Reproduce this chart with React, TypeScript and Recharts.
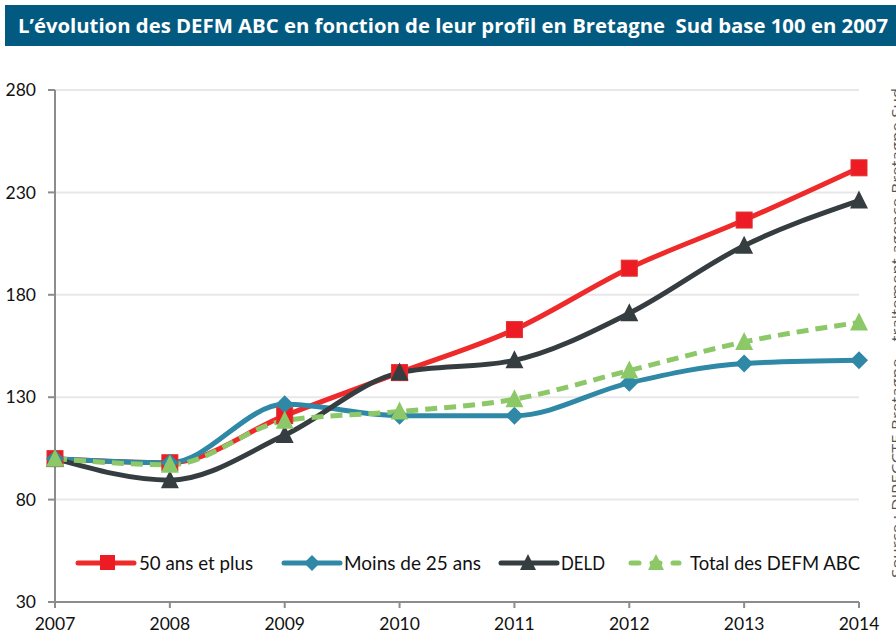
import React from "react";
import { LineChart, Line, XAxis, YAxis, CartesianGrid } from "recharts";

const years = [2007, 2008, 2009, 2010, 2011, 2012, 2013, 2014];
const plus50 = [100, 98, 121, 142, 163, 193, 216.5, 242];
const moins25 = [100, 98, 126.5, 121, 121, 137, 146.5, 148];
const deld = [100, 89.5, 111.5, 142, 148, 171, 204, 226];
const total = [100, 97, 118.5, 123, 129, 143, 157, 166.5];
const yTicks = [30, 80, 130, 180, 230, 280];

const title = "L’évolution des DEFM ABC en fonction de leur profil en Bretagne  Sud base 100 en 2007";
const source = "Source : DIRECCTE Bretagne – traitement agence Bretagne Sud";

const data = years.map((y, i) => ({
  year: y,
  plus50: plus50[i],
  moins25: moins25[i],
  deld: deld[i],
  total: total[i],
}));

const RED = "#ee2a2a";
const TEAL = "#2f89a6";
const DARK = "#363d40";
const GREEN = "#8dc868";
const FONT = "Lato, 'Open Sans', sans-serif";

const Square = (p: any) => {
  const { cx, cy, key } = p;
  if (cx == null || cy == null) return null;
  return <rect key={key} x={cx - 8} y={cy - 8} width={16} height={16} fill="#ed1c24" stroke="#e03030" strokeWidth={1} />;
};
const Diamond = (p: any) => {
  const { cx, cy, key } = p;
  if (cx == null || cy == null) return null;
  return <path key={key} d={`M${cx},${cy - 9} L${cx + 9},${cy} L${cx},${cy + 9} L${cx - 9},${cy} Z`} fill={TEAL} />;
};
const makeTri = (color: string) => (p: any) => {
  const { cx, cy, key } = p;
  if (cx == null || cy == null) return null;
  return <path key={key} d={`M${cx},${cy - 10} L${cx + 9},${cy + 8} L${cx - 9},${cy + 8} Z`} fill={color} />;
};
const DarkTri = makeTri(DARK);
const GreenTri = makeTri(GREEN);

const legendItems = [
  { label: "50 ans et plus", color: RED, shape: "square", x1: 78, x2: 134, mx: 108, tx: 139, tw: 114, dash: false },
  { label: "Moins de 25 ans", color: TEAL, shape: "diamond", x1: 284, x2: 340, mx: 312, tx: 344, tw: 137, dash: false },
  { label: "DELD", color: DARK, shape: "tri", x1: 501, x2: 557, mx: 528, tx: 561, tw: 44, dash: false },
  { label: "Total des DEFM ABC", color: GREEN, shape: "tri", x1: 631, x2: 679, mx: 656, tx: 690, tw: 170, dash: true },
];

const LegendOverlay = () => (
  <svg width={896} height={636} style={{ position: "absolute", left: 0, top: 0, pointerEvents: "none" }}>
    {legendItems.map((it) => {
      const cy = 563;
      const mx = it.mx;
      let marker = null;
      if (it.shape === "square") marker = <rect x={mx - 8} y={cy - 8} width={15} height={15} fill="#ed1c24" />;
      else if (it.shape === "diamond") marker = <path d={`M${mx},${cy - 8} L${mx + 8},${cy} L${mx},${cy + 8} L${mx - 8},${cy} Z`} fill={it.color} />;
      else marker = <path d={`M${mx},${cy - 9} L${mx + 8},${cy + 7} L${mx - 8},${cy + 7} Z`} fill={it.color} />;
      return (
        <g key={it.label}>
          <line x1={it.x1} y1={cy} x2={it.x2} y2={cy} stroke={it.color} strokeWidth={5} strokeLinecap="round" strokeDasharray={it.dash ? "8 13" : undefined} />
          {marker}
          <text x={it.tx} y={cy + 7} fontFamily={FONT} fontSize={19} fill="#111" textLength={it.tw} lengthAdjust="spacingAndGlyphs">
            {it.label}
          </text>
        </g>
      );
    })}
  </svg>
);

export default function App() {
  return (
    <div style={{ position: "absolute", left: 0, top: 0, width: 896, height: 636, background: "#fff", overflow: "hidden" }}>
      <svg width={896} height={50} style={{ position: "absolute", left: 0, top: 0 }}>
        <rect x={5} y={5} width={891} height={41} fill="#035a80" />
        <text x={18} y={33} fill="#fff" fontFamily="'Open Sans', sans-serif" fontWeight={700} fontSize={20} textLength={870} lengthAdjust="spacingAndGlyphs" xmlSpace="preserve" style={{ whiteSpace: "pre" }}>
          {title}
        </text>
      </svg>
      <div style={{ position: "absolute", left: 0, top: 0 }}>
        <LineChart width={896} height={636} data={data} margin={{ top: 90, right: 37, left: 8, bottom: 4 }}>
          <CartesianGrid horizontal vertical={false} stroke="#e8e8e8" strokeWidth={2} />
          <XAxis
            dataKey="year"
            type="number"
            domain={[2007, 2014]}
            ticks={years}
            interval={0}
            height={30}
            axisLine={{ stroke: "#8c8c8f", strokeWidth: 2 }}
            tickLine={{ stroke: "#8c8c8f", strokeWidth: 2 }}
            tickSize={6}
            tickMargin={10}
            tick={{ fill: "#111", fontSize: 17.5, fontFamily: FONT }}
          />
          <YAxis
            type="number"
            domain={[30, 280]}
            ticks={yTicks}
            interval={0}
            width={47}
            axisLine={{ stroke: "#8c8c8f", strokeWidth: 2 }}
            tickLine={{ stroke: "#8c8c8f", strokeWidth: 2 }}
            tickSize={7}
            tickMargin={12}
            tick={{ fill: "#111", fontSize: 17.5, fontFamily: FONT }}
          />
          <Line type="monotone" dataKey="plus50" stroke={RED} strokeWidth={5} dot={Square} activeDot={false} isAnimationActive={false} />
          <Line type="monotone" dataKey="moins25" stroke={TEAL} strokeWidth={5} dot={Diamond} activeDot={false} isAnimationActive={false} />
          <Line type="monotone" dataKey="deld" stroke={DARK} strokeWidth={5} dot={DarkTri} activeDot={false} isAnimationActive={false} />
          <Line type="monotone" dataKey="total" stroke={GREEN} strokeWidth={5} strokeDasharray="12 7" dot={GreenTri} activeDot={false} isAnimationActive={false} />
        </LineChart>
      </div>
      <LegendOverlay />
      <svg width={896} height={636} style={{ position: "absolute", left: 0, top: 0, pointerEvents: "none" }}>
        <text
          transform="translate(902,578) rotate(-90)"
          x={0}
          y={0}
          fill="#555"
          fontFamily="'Open Sans', sans-serif"
          fontSize={14}
          textLength={490}
          lengthAdjust="spacingAndGlyphs"
        >
          {source}
        </text>
      </svg>
    </div>
  );
}
